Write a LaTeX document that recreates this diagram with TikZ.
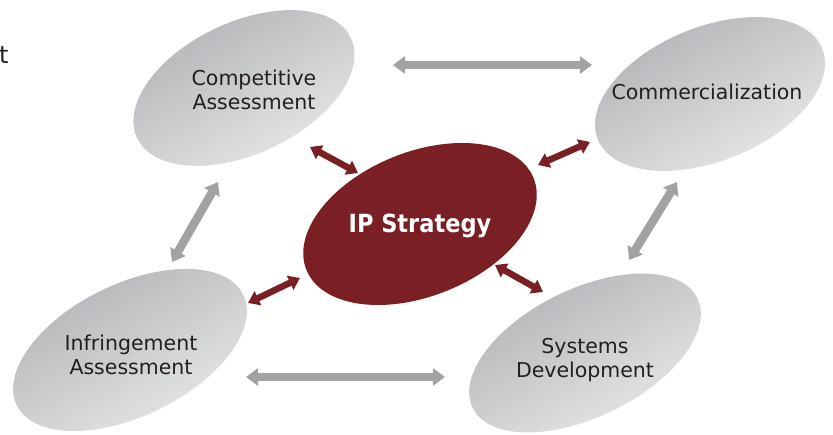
\documentclass[tikz,border=0pt]{standalone}
\usepackage{fontspec}
\setmainfont{DejaVu Sans}
\newfontfamily\condfont{DejaVu Sans Condensed}
\usetikzlibrary{shapes.geometric,arrows.meta}
\definecolor{ipred}{RGB}{122,31,35}
\definecolor{arrowgray}{RGB}{161,162,164}
\definecolor{shadedark}{RGB}{176,177,180}
\definecolor{shadelight}{RGB}{233,234,235}
\definecolor{textdark}{RGB}{35,31,32}
\tikzset{
  topic/.style={ellipse, inner sep=0pt, top color=shadedark, bottom color=shadelight, shading angle=30},
  topictext/.style={align=center, text=textdark, font=\fontsize{20.5}{24.5}\selectfont},
  greyarrow/.style={line width=8.5pt, arrowgray, {Triangle[width=17pt,length=12pt]}-{Triangle[width=17pt,length=12pt]}},
  redarrow/.style={line width=6.5pt, ipred, {Triangle[width=15pt,length=11pt]}-{Triangle[width=15pt,length=11pt]}}
}
\begin{document}
\begin{tikzpicture}[x=1pt,y=1pt]
  \useasboundingbox (0,0) rectangle (833,435);
  % the four topics round the strategy
  \node[topic, minimum width=236pt, minimum height=132pt, rotate=25] (comp) at (244,347) {};
  \node[topic, minimum width=242pt, minimum height=134pt, rotate=22] (comm) at (710,341) {};
  \node[topic, minimum width=252pt, minimum height=132pt, rotate=26] (infr) at (130,85) {};
  \node[topic, minimum width=250pt, minimum height=128pt, rotate=26] (sys) at (585,82) {};
  \node[ellipse, inner sep=0pt, fill=ipred, minimum width=245pt, minimum height=144pt, rotate=22] (ip) at (420,211) {};
  % grey arrows between topics
  \draw[greyarrow] ([shift={(149,23)}]comp.center) -- ([shift={(-118,29)}]comm.center);
  \draw[greyarrow] ([shift={(116,-27)}]infr.center) -- ([shift={(-140,-24)}]sys.center);
  \draw[greyarrow] ([shift={(-26,-94)}]comp.center) -- ([shift={(42,88)}]infr.center);
  \draw[greyarrow] ([shift={(-33,-88)}]comm.center) -- ([shift={(44,93)}]sys.center);
  % red arrows to the strategy
  \draw[redarrow] ([shift={(66,-59)}]comp.center) -- ([shift={(-62,51)}]ip.center);
  \draw[redarrow] ([shift={(118,59)}]ip.center) -- ([shift={(-120,-48)}]comm.center);
  \draw[redarrow] ([shift={(118,47)}]infr.center) -- ([shift={(-120,-54)}]ip.center);
  \draw[redarrow] ([shift={(75,-41)}]ip.center) -- ([shift={(-42,61)}]sys.center);
  % labels
  \node[topictext, anchor=base] (comptext) at (254,325) {Competitive\\Assessment};
  \node[topictext, anchor=base] (commtext) at (707,335) {Commercialization};
  \node[topictext, anchor=base] (infrtext) at (131,60) {Infringement\\Assessment};
  \node[topictext, anchor=base] (systext) at (585,57) {Systems\\Development};
  \node[anchor=base, text=white, font=\condfont\bfseries\fontsize{25}{29}\selectfont] (iptext) at (420,202) {IP Strategy};
  \node[anchor=base west, inner sep=0pt, text=textdark, font=\fontsize{24}{28}\selectfont] (cut) at (-1,371) {t};
\end{tikzpicture}
\end{document}
